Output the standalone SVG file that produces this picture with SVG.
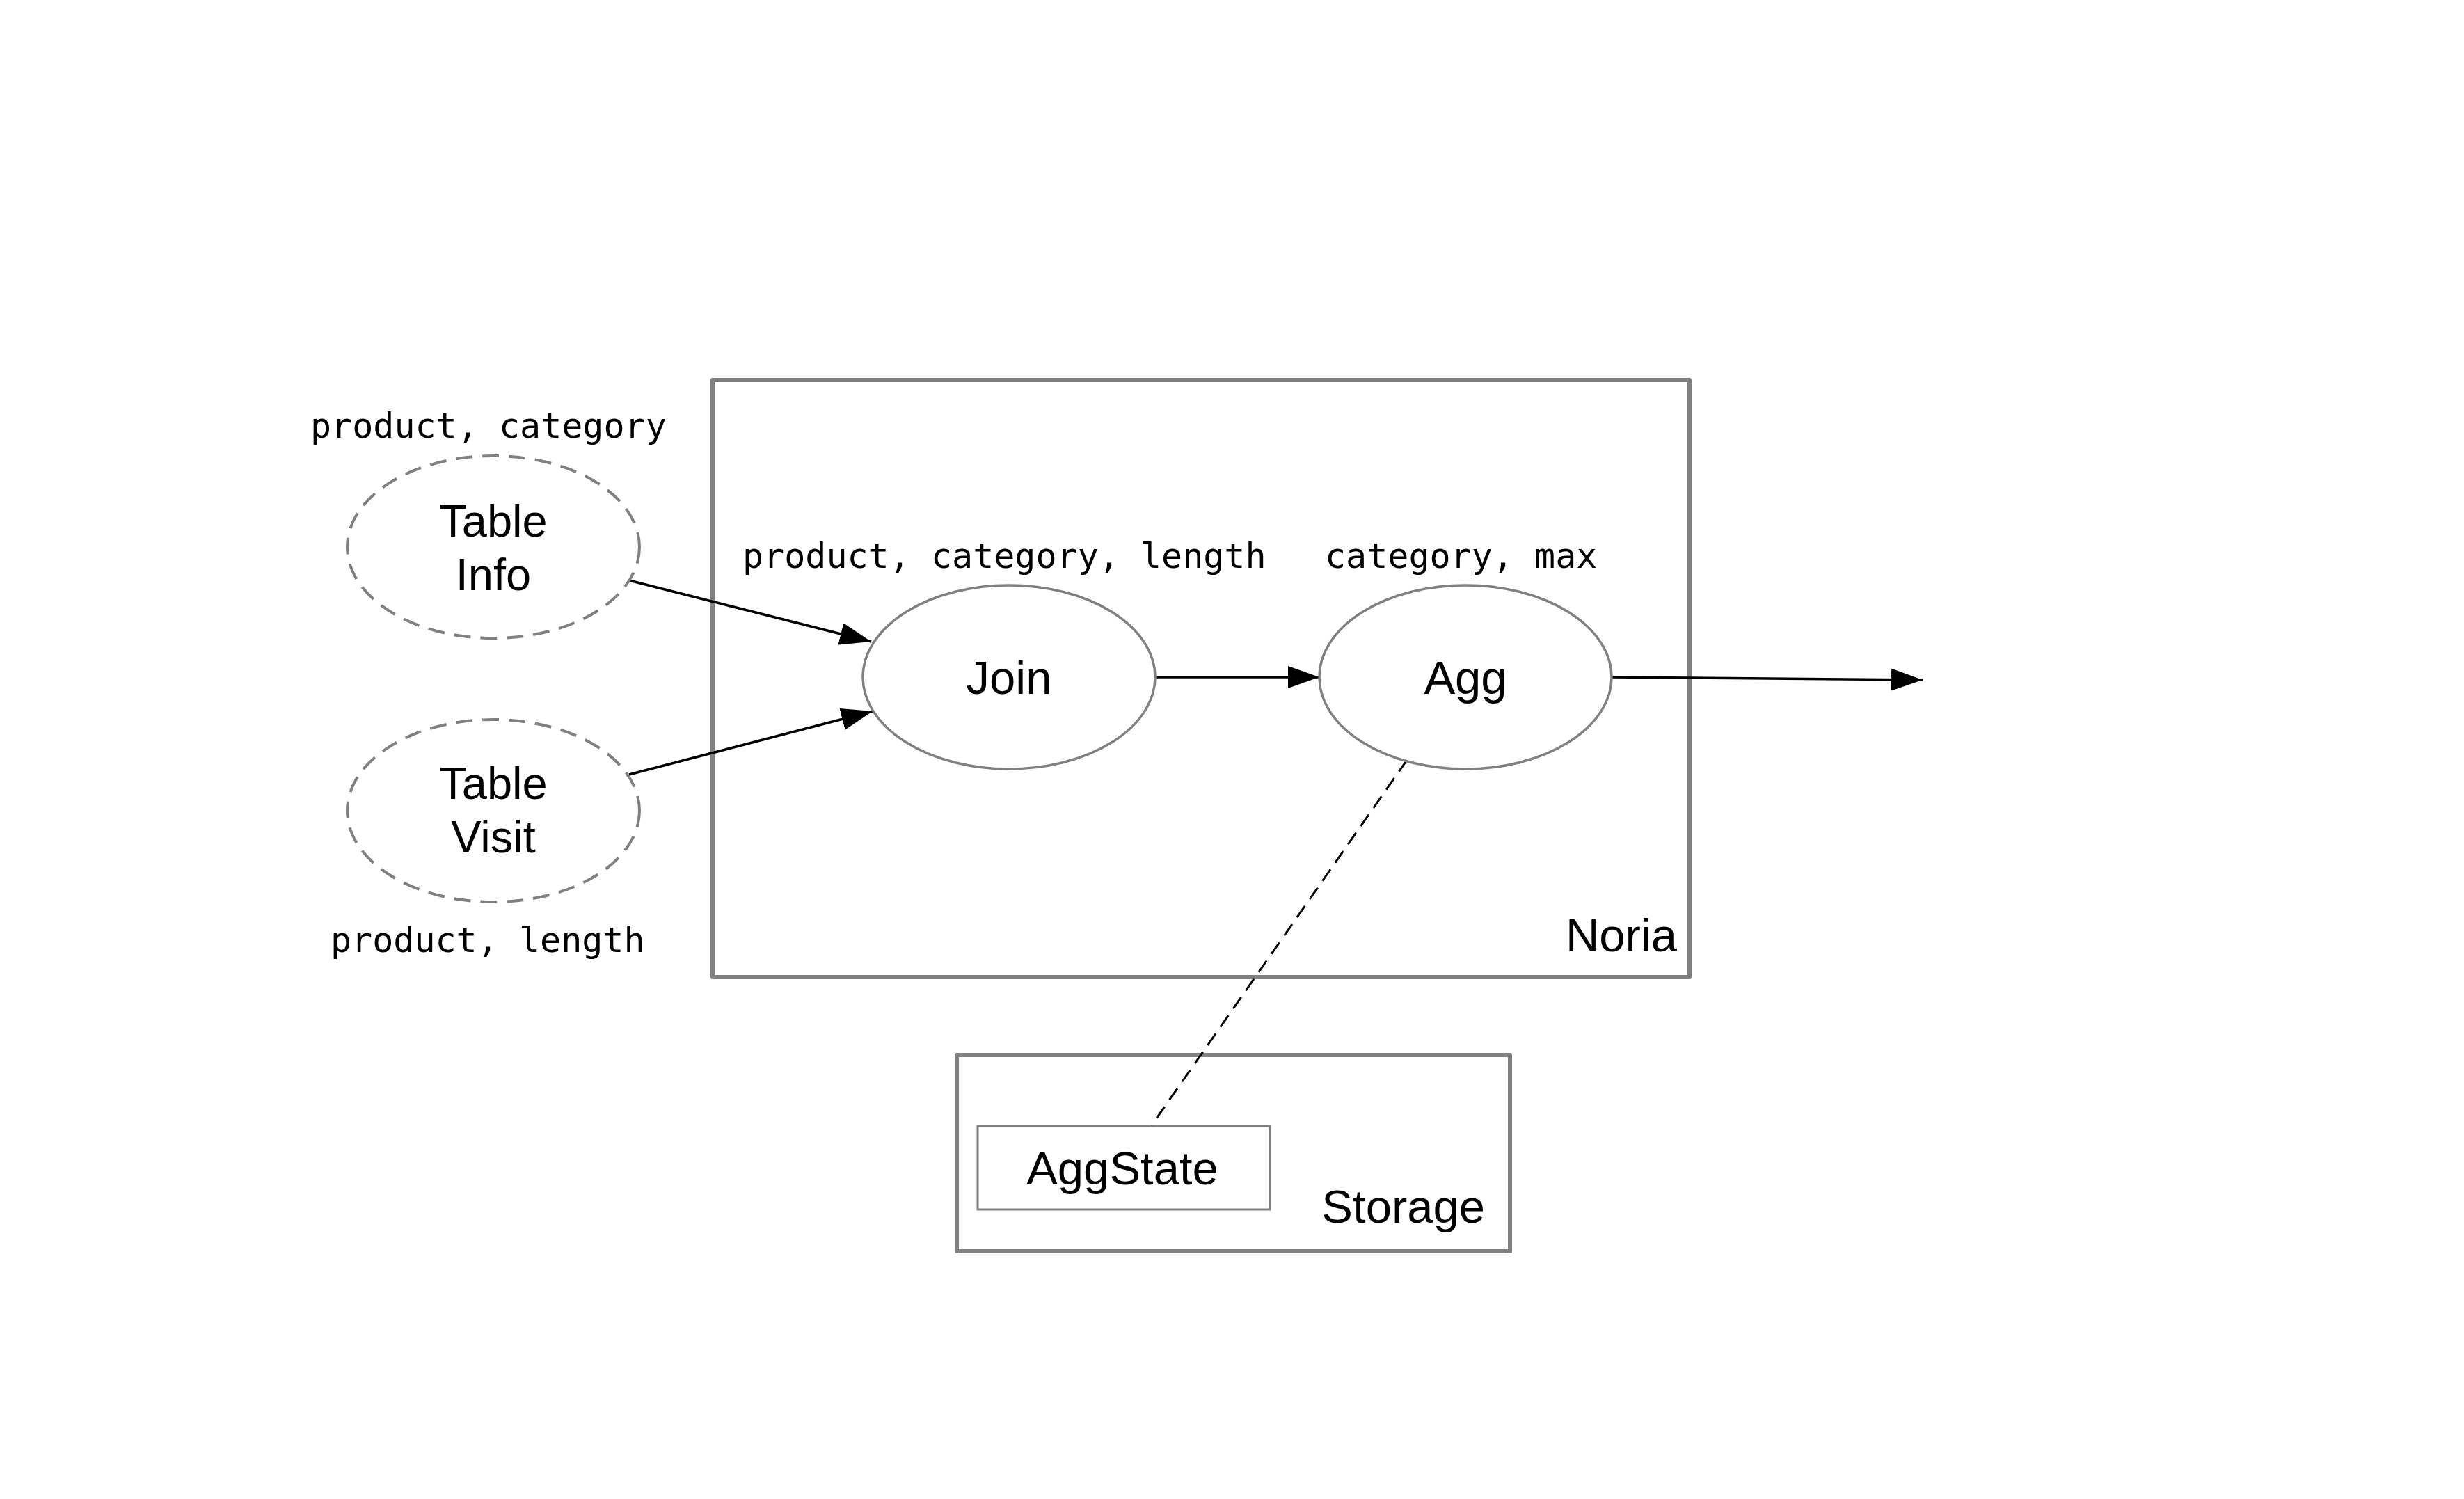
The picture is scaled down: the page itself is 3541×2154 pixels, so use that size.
<svg xmlns="http://www.w3.org/2000/svg" width="3541" height="2154" viewBox="0 0 3541 2154">
<style>
.box{fill:none;stroke:#808080;stroke-width:6;stroke-linejoin:round}
.inner{fill:none;stroke:#808080;stroke-width:3}
.node{fill:#fff;stroke:#808080;stroke-width:3.5}
.table{fill:#fff;stroke:#808080;stroke-width:4;stroke-dasharray:24 14}
.lbl{font-family:"Liberation Sans",Arial,sans-serif;font-size:67px;fill:#000}
.tl{font-size:65px}
.mono{font-family:"DejaVu Sans Mono","Liberation Mono",monospace;font-size:50px;fill:#000}
.edge{fill:none;stroke:#000;stroke-width:3.5}
.dash{fill:none;stroke:#000;stroke-width:3;stroke-dasharray:20 12}
</style>
<defs>
<marker id="arr" viewBox="0 0 45 32" refX="45" refY="16" markerWidth="45" markerHeight="32" markerUnits="userSpaceOnUse" orient="auto">
<path d="M0,0 L45,16 L0,32 Z" fill="#000"/>
</marker>
</defs>
<rect width="3541" height="2154" fill="#fff"/>
<g id="noria">
<rect class="box" x="1024" y="546" width="1404" height="858"/>
<text class="lbl" x="2410" y="1367" text-anchor="end">Noria</text>
</g>
<g id="storage">
<rect class="box" x="1375" y="1516" width="795" height="282"/>
<text class="lbl" x="2134" y="1757" text-anchor="end">Storage</text>
</g>
<g id="aggstate">
<rect class="inner" x="1405" y="1618" width="420" height="120"/>
<text class="lbl" x="1613" y="1702" text-anchor="middle">AggState</text>
</g>
<g id="connectors">
<line class="edge" x1="904" y1="834" x2="1252" y2="922" marker-end="url(#arr)"/>
<line class="edge" x1="904" y1="1113" x2="1254" y2="1022" marker-end="url(#arr)"/>
<line class="edge" x1="1660" y1="973" x2="1896" y2="973" marker-end="url(#arr)"/>
<line class="edge" x1="2315" y1="973" x2="2763" y2="977" marker-end="url(#arr)"/>
<line class="dash" x1="2022" y1="1092" x2="1655" y2="1617"/>
</g>
<g id="table-info">
<ellipse class="table" cx="709" cy="786" rx="210" ry="131"/>
<text class="lbl tl" x="709" y="771" text-anchor="middle">Table</text>
<text class="lbl tl" x="709" y="848" text-anchor="middle">Info</text>
<text class="mono" x="446" y="629">product, category</text>
</g>
<g id="table-visit">
<ellipse class="table" cx="709" cy="1165" rx="210" ry="131"/>
<text class="lbl tl" x="709" y="1148" text-anchor="middle">Table</text>
<text class="lbl tl" x="709" y="1225" text-anchor="middle">Visit</text>
<text class="mono" x="475" y="1368">product, length</text>
</g>
<g id="join">
<ellipse class="node" cx="1450" cy="973" rx="210" ry="132"/>
<text class="lbl" x="1450" y="997" text-anchor="middle">Join</text>
<text class="mono" x="1067" y="816">product, category, length</text>
</g>
<g id="agg">
<ellipse class="node" cx="2106" cy="973" rx="210" ry="132"/>
<text class="lbl" x="2106" y="997" text-anchor="middle">Agg</text>
<text class="mono" x="1904" y="816">category, max</text>
</g>
</svg>
